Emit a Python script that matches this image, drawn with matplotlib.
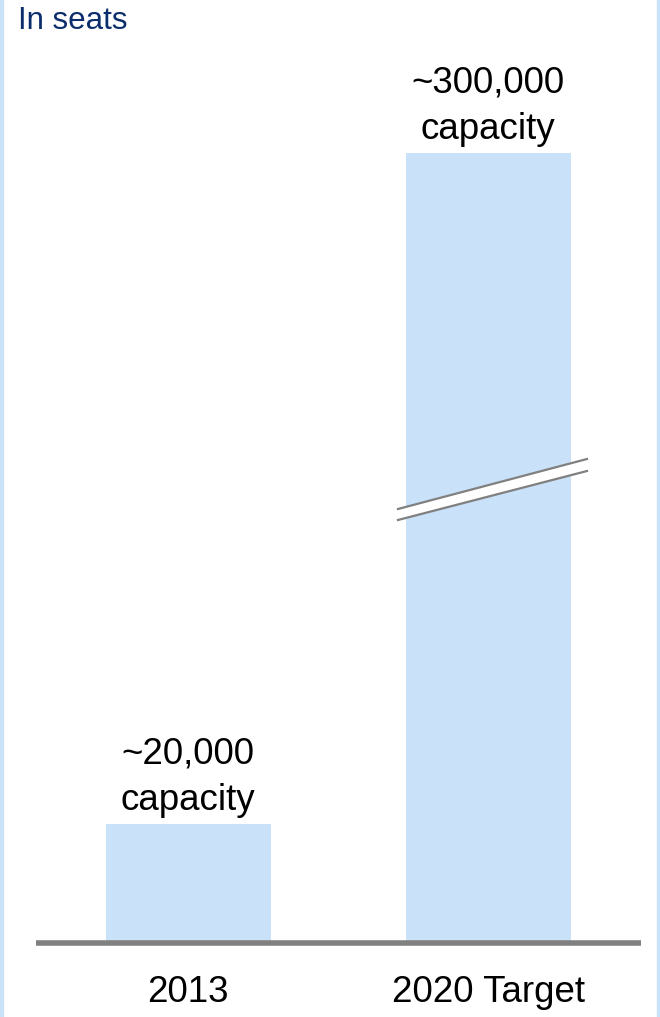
import matplotlib.pyplot as plt
import numpy as np
from matplotlib.patches import Polygon, Rectangle

plt.rcParams['font.family'] = ['Liberation Sans', 'DejaVu Sans']

# data
kategorier = ['2013', '2020 Target']
kapasitet = [20000, 300000]
etiketter = ['~20,000\ncapacity', '~300,000\ncapacity']

# broken axis: linear up to the break, compressed above it
brudd = 80000
faktor = 0.2399
px_per_enhet = 0.00595

def fram(v):
    v = np.asarray(v, dtype=float)
    return np.where(v <= brudd, v, brudd + (v - brudd) * faktor)

def tilbake(v):
    v = np.asarray(v, dtype=float)
    return np.where(v <= brudd, v, brudd + (v - brudd) / faktor)

fig = plt.figure(figsize=(6.6, 10.17), dpi=100)
ax = fig.add_axes([36 / 660, 74 / 1017, 605 / 660, 883 / 1017])
ax.set_yscale('function', functions=(fram, tilbake))

blaa = '#c9e1f9'
x = np.arange(len(kategorier))
ax.bar(x, kapasitet, width=0.55, color=blaa, zorder=1)

ax.set_xlim(-0.508, 1.51)
ax.set_ylim(0, float(tilbake(883 / px_per_enhet)))

for xi, v, t in zip(x, kapasitet, etiketter):
    ax.annotate(t, (xi, v), xytext=(0, 4), textcoords='offset points',
                ha='center', va='bottom', fontsize=26.5, linespacing=1.45,
                color='black')

# break marks on the tall bar
y1 = 1 - (509 - 60) / 883
y2 = 1 - (459 - 60) / 883
y3 = 1 - (520 - 60) / 883
y4 = 1 - (471 - 60) / 883
x1 = (398 - 36) / 605
x2 = (587 - 36) / 605
ax.add_patch(Polygon([[x1, y1], [x2, y2], [x2, y4], [x1, y3]], closed=True,
                     transform=ax.transAxes, facecolor='white', edgecolor='none',
                     zorder=3, clip_on=False))
ax.plot([x1, x2], [y1, y2], color='#808080', lw=1.6, transform=ax.transAxes, zorder=4, clip_on=False)
ax.plot([x1, x2], [y3, y4], color='#808080', lw=1.6, transform=ax.transAxes, zorder=4, clip_on=False)

# axis styling
for s in ['top', 'right', 'left']:
    ax.spines[s].set_visible(False)
ax.spines['bottom'].set_color('#808080')
ax.spines['bottom'].set_linewidth(4)
ax.spines['bottom'].set_capstyle('butt')
ax.spines['bottom'].set_zorder(5)
ax.set_yticks([])
ax.set_xticks(x)
ax.set_xticklabels(kategorier, fontsize=26.5)
ax.tick_params(axis='x', length=0, pad=23)

fig.text(18 / 660, 1 - 21 / 1017, 'In seats', fontsize=22.5, color='#0b2d6b',
         ha='left', va='center')

# side borders
fig.add_artist(Rectangle((0, 0), 3 / 660, 1, color=blaa, transform=fig.transFigure))
fig.add_artist(Rectangle((657 / 660, 0), 3 / 660, 1, color=blaa, transform=fig.transFigure))

fig.savefig('out.png', dpi=100)
